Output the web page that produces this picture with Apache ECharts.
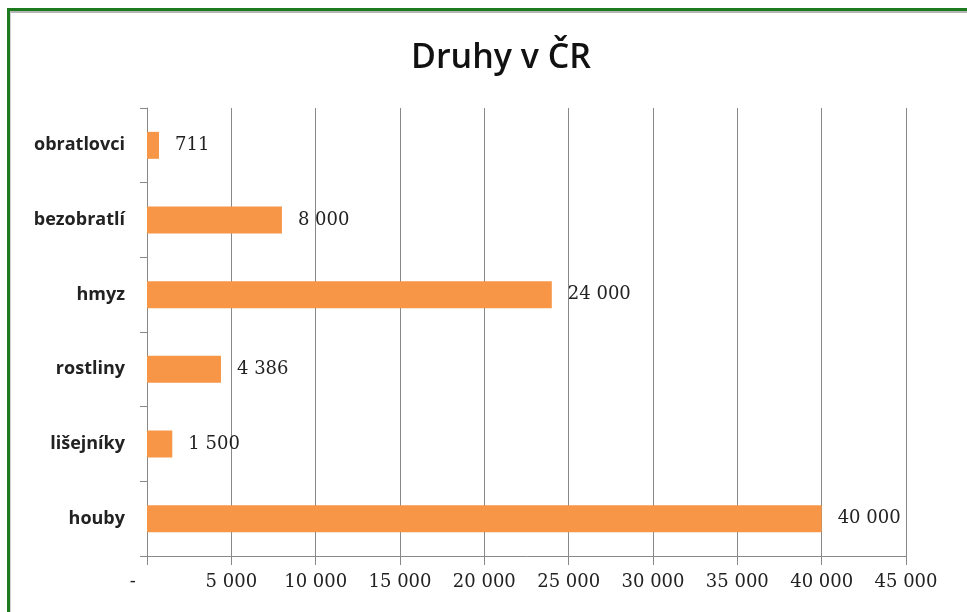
<!DOCTYPE html>
<html>
<head>
<meta charset="utf-8">
<script src="https://cdn.jsdelivr.net/npm/echarts@6/dist/echarts.min.js"></script>
<style>
html,body{margin:0;padding:0;background:#fff;}
#frame{position:absolute;left:0;top:0;width:967px;height:612px;overflow:hidden;background:#fff;}
#bord{position:absolute;left:7px;top:8px;width:980px;height:620px;border-top:3px solid #1e7a1e;border-left:3px solid #1e7a1e;}
#inner{position:absolute;left:10px;top:11px;width:980px;height:620px;border-top:2px solid #b5b5b5;border-left:1px solid #d0d0d0;}
#chart{position:absolute;left:0;top:0;width:967px;height:612px;}
</style>
</head>
<body>
<div id="frame">
<div id="chart"></div>
<div id="bord"></div>
<div id="inner"></div>
</div>
<script>
const titleText = 'Druhy v ČR';
const categories = ['obratlovci', 'bezobratlí', 'hmyz', 'rostliny', 'lišejníky', 'houby'];
const values = [711, 8000, 24000, 4386, 1500, 40000];

function fmt(v) {
  if (v === 0) return '-     ';
  return String(v).replace(/\B(?=(\d{3})+(?!\d))/g, ' ');
}

const chart = echarts.init(document.getElementById('chart'));
chart.setOption({
  animation: false,
  backgroundColor: '#fff',
  title: {
    text: titleText,
    left: 496,
    top: 36,
    textAlign: 'center',
    textStyle: { fontFamily: 'Open Sans', fontWeight: 600, fontSize: 34, color: '#111' }
  },
  grid: { left: 147, right: 61, top: 108, bottom: 56, containLabel: false },
  xAxis: {
    type: 'value',
    min: 0, max: 45000, interval: 5000,
    axisLine: { show: true, lineStyle: { color: '#888', width: 1 } },
    axisTick: { show: true, length: 9, lineStyle: { color: '#888' } },
    splitLine: { show: true, lineStyle: { color: '#888', width: 1 } },
    axisLabel: { formatter: fmt, margin: 17, fontFamily: 'DejaVu Serif', fontSize: 18, color: '#222' }
  },
  yAxis: {
    type: 'category',
    inverse: true,
    data: categories,
    axisLine: { show: true, lineStyle: { color: '#888', width: 1 } },
    axisTick: { show: true, length: 7, lineStyle: { color: '#888' } },
    axisLabel: { margin: 22, fontFamily: 'Open Sans', fontWeight: 700, fontSize: 18, color: '#222' }
  },
  series: [{
    type: 'bar',
    data: values,
    barWidth: 27,
    itemStyle: { color: '#F79646' },
    label: {
      show: true, position: 'right', distance: 16,
      formatter: p => fmt(p.value),
      fontFamily: 'DejaVu Serif', fontSize: 18, color: '#222'
    }
  }]
});
</script>
</body>
</html>
